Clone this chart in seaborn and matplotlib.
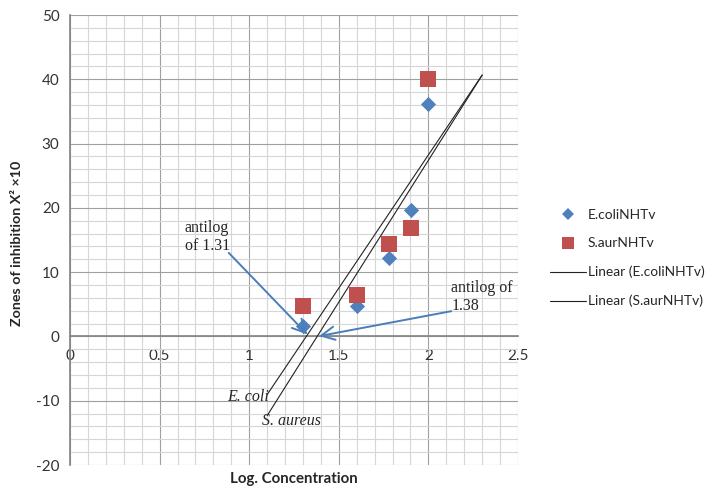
import numpy as np
import pandas as pd
import seaborn as sns
import matplotlib
matplotlib.use("Agg")
import matplotlib.pyplot as plt
from matplotlib.lines import Line2D
from matplotlib.ticker import MultipleLocator

# ---- data ----
log_conc = [1.301, 1.602, 1.778, 1.903, 2.0]
ecoli = [1.6, 4.8, 12.2, 19.7, 36.2]
saur = [4.8, 6.4, 14.4, 16.9, 40.0]
series_names = ["E.coliNHTv", "S.aurNHTv"]
trend_names = ["Linear (E.coliNHTv)", "Linear (S.aurNHTv)"]
trend_range = [1.1, 2.3]
x_ticks = [0, 0.5, 1, 1.5, 2, 2.5]
y_ticks = [-20, -10, 0, 10, 20, 30, 40, 50]

blue = "#4F81BD"
red = "#C0504D"
arrow_c = "#4A7EBB"

sns.set_theme(style="white")
plt.rcParams['font.family'] = ['Lato', 'DejaVu Sans']
plt.rcParams['axes.unicode_minus'] = False

W, H = 708, 490
fig = plt.figure(figsize=(W / 100, H / 100), dpi=100)
fig.patch.set_facecolor("white")
L, R, T, B = 70, 518, 15, 465
ax = fig.add_axes([L / W, 1 - B / H, (R - L) / W, (B - T) / H])

df_e = pd.DataFrame({"x": log_conc, "y": ecoli})
df_s = pd.DataFrame({"x": log_conc, "y": saur})

# trend lines (least-squares fits, extended)
for vals in (saur, ecoli):
    k, b = np.polyfit(log_conc, vals, 1)
    tx = np.array(trend_range)
    sns.lineplot(x=tx, y=k * tx + b, color="#222222", lw=0.8, ax=ax, zorder=3)

sns.scatterplot(data=df_e, x="x", y="y", marker="D", color=blue, s=60,
                linewidth=0, ax=ax, zorder=4)
sns.scatterplot(data=df_s, x="x", y="y", marker="s", color=red, s=120,
                linewidth=0, ax=ax, zorder=4)

ax.set_xlim(0, 2.5)
ax.set_ylim(-20, 50)
ax.set_xticks(x_ticks)
ax.set_xticklabels([f"{t:g}" for t in x_ticks])
ax.set_yticks(y_ticks)
ax.xaxis.set_minor_locator(MultipleLocator(0.1))
ax.yaxis.set_minor_locator(MultipleLocator(2))
ax.grid(which="minor", color="#d6d6d6", lw=0.8, zorder=0)
ax.grid(which="major", color="#a0a0a0", lw=0.8, zorder=0)
ax.set_axisbelow(True)

for s in ("top", "right"):
    ax.spines[s].set_visible(False)
ax.spines["left"].set_color("#868686")
ax.spines["bottom"].set_color("#868686")
ax.spines["bottom"].set_position(("data", 0))
ax.tick_params(axis="both", which="major", length=4, color="#868686",
               labelsize=11, labelcolor="#333333", direction="out")
ax.tick_params(axis="x", which="major", pad=5)
ax.tick_params(which="minor", length=0)
ax.set_xlabel("")
ax.set_ylabel("")

fig.text(17 / W, 1 - 243 / H, "Zones of inhibition X² ×10", rotation=90,
         ha="center", va="center", fontsize=10.3, fontweight="bold")
fig.text(294 / W, 1 - 479 / H, "Log. Concentration", ha="center",
         va="center", fontsize=10.8, fontweight="bold")

# annotations
serif = ["Liberation Serif", "DejaVu Serif"]
ax.text(0.64, 15.45, "antilog\nof 1.31", ha="left", va="center",
        family=serif, fontsize=11.5, linespacing=1.15, zorder=5)
ax.text(2.128, 6.13, "antilog of\n1.38", ha="left", va="center",
        family=serif, fontsize=11.5, linespacing=1.15, zorder=5)
ax.text(0.877, -9.47, "E. coli", ha="left", va="center", family=serif,
        style="italic", fontsize=11.5, zorder=5)
ax.text(1.073, -13.15, "S. aureus", ha="left", va="center", family=serif,
        style="italic", fontsize=11.5, zorder=5)
ap = dict(arrowstyle="->,head_length=0.8,head_width=0.4", color=arrow_c,
          lw=1.4, shrinkA=0, shrinkB=0)
ax.annotate("", xy=(1.325, 0.3), xytext=(0.886, 13.0), arrowprops=ap, zorder=5)
ax.annotate("", xy=(1.39, 0.05), xytext=(2.128, 3.93), arrowprops=ap, zorder=5)

# legend
handles = [
    Line2D([], [], marker="D", ls="", color=blue, ms=6.5, mew=0),
    Line2D([], [], marker="s", ls="", color=red, ms=8.5, mew=0),
    Line2D([], [], color="#222222", lw=0.8),
    Line2D([], [], color="#222222", lw=0.8),
]
labels = series_names + trend_names
fig.legend(handles, labels, loc="upper left",
           bbox_to_anchor=(543 / W, 1 - 202 / H), frameon=False,
           fontsize=9.9, handlelength=2.6, handletextpad=0.15,
           labelspacing=1.2, borderpad=0)

fig.savefig("out.png", dpi=100)
